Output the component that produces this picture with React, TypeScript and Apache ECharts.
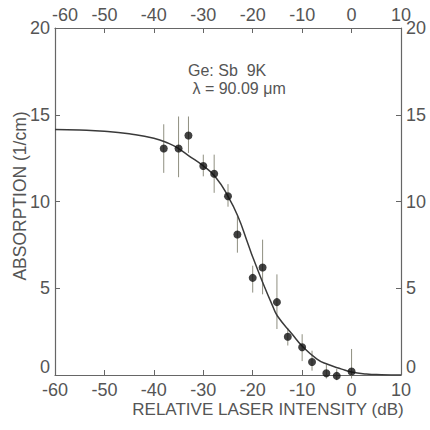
import React, { useEffect, useRef } from "react";
import * as echarts from "echarts";

// Measured points (relative laser intensity dB, absorption 1/cm)
const pointX = [-38, -35, -33, -30, -27.8, -25, -23.1, -20, -18, -15.1, -12.9, -10, -8, -5.1, -3, 0];
const pointY = [13.05, 13.05, 13.8, 12.05, 11.6, 10.3, 8.1, 5.6, 6.2, 4.2, 2.2, 1.6, 0.75, 0.1, -0.05, 0.2];
const errLow = [11.65, 11.4, 12.8, 11.45, 10.5, 9.7, 7.05, 4.75, 4.65, 2.65, 1.7, 0.8, 0.25, -0.2, -0.3, -0.2];
const errHigh = [14.45, 14.9, 14.9, 12.7, 12.7, 11.0, 9.15, 6.3, 7.8, 5.8, 2.7, 2.35, 1.4, 0.6, 0.35, 1.5];

// Fitted curve
const curveX = [-60, -55, -50, -45, -40, -37, -35, -33, -30, -27.5, -25, -23, -21, -20, -18, -16, -15, -12, -10, -7, -5, -2, 0, 3, 6, 10];
const curveY = [14.15, 14.12, 14.05, 13.9, 13.65, 13.35, 13.05, 12.65, 12.05, 11.4, 10.3, 9.15, 7.6, 6.8, 5.35, 4.0, 3.4, 2.35, 1.67, 0.92, 0.63, 0.34, 0.17, 0.06, 0.02, 0];

const FONT = "Liberation Sans";
const TXT = "#555";
const AXIS = "#666";

export default function App() {
  const ref = useRef<HTMLDivElement>(null);
  useEffect(() => {
    document.body.style.margin = "0";
    const chart = echarts.init(ref.current!, null, { renderer: "svg" });
    const xAxisBase = {
      type: "value",
      min: -60,
      max: 10,
      interval: 10,
      splitLine: { show: false },
      axisLine: { show: true, onZero: false, lineStyle: { color: AXIS, width: 1.2 } },
      axisTick: { show: true, inside: true, length: 5, lineStyle: { color: AXIS } },
      axisLabel: { color: TXT, fontSize: 18, fontFamily: FONT, margin: 6 },
    };
    const yLabel = {
      color: TXT,
      fontSize: 18,
      fontFamily: FONT,
      margin: 5,
      formatter: (v: number) => (v === 0 ? "{z|0}" : String(v)),
      rich: { z: { color: TXT, fontSize: 18, fontFamily: FONT, padding: [0, 0, 16, 0] } },
    };
    const yAxisBase = {
      type: "value",
      min: 0,
      max: 20,
      interval: 5,
      splitLine: { show: false },
      axisLine: { show: true, onZero: false, lineStyle: { color: AXIS, width: 1.2 } },
      axisTick: { show: true, inside: true, length: 5, lineStyle: { color: AXIS } },
      axisLabel: yLabel,
    };
    chart.setOption({
      animation: false,
      backgroundColor: "#fff",
      grid: { left: 55, right: 29, top: 28, bottom: 55 },
      xAxis: [
        { ...xAxisBase, position: "bottom" },
        {
          ...xAxisBase,
          position: "top",
          axisLabel: {
            ...xAxisBase.axisLabel,
            margin: 4,
            formatter: (v: number) => (v === -60 ? "{s|-60}" : String(v)),
            rich: { s: { color: TXT, fontSize: 18, fontFamily: FONT, padding: [0, 0, 0, 20] } },
          },
        },
      ],
      yAxis: [
        { ...yAxisBase, position: "left" },
        { ...yAxisBase, position: "right" },
      ],
      graphic: [
        {
          type: "text",
          x: 268,
          y: 409,
          style: {
            text: "RELATIVE LASER INTENSITY (dB)",
            fill: TXT,
            font: `17px "${FONT}"`,
            align: "center",
            verticalAlign: "middle",
          },
        },
        {
          type: "text",
          x: 20,
          y: 196,
          rotation: Math.PI / 2,
          style: {
            text: "ABSORPTION (1/cm)",
            fill: TXT,
            font: `17.5px "${FONT}"`,
            align: "center",
            verticalAlign: "middle",
          },
        },
        {
          type: "text",
          x: 188,
          y: 61,
          style: {
            text: "Ge: Sb  9K\n \u03bb = 90.09 \u03bcm",
            fill: TXT,
            font: `16px "${FONT}"`,
            lineHeight: 18,
            verticalAlign: "top",
          },
        },
      ],
      series: [
        {
          type: "line",
          data: curveX.map((x, i) => [x, curveY[i]]),
          smooth: true,
          showSymbol: false,
          symbol: "none",
          lineStyle: { color: "#3a3a3a", width: 1.5 },
          z: 2,
        },
        {
          type: "custom",
          clip: false,
          data: pointX.map((x, i) => [x, errLow[i], errHigh[i]]),
          renderItem: (params: any, api: any) => {
            const p1 = api.coord([api.value(0), api.value(1)]);
            const p2 = api.coord([api.value(0), api.value(2)]);
            return {
              type: "line",
              shape: { x1: p1[0], y1: p1[1], x2: p2[0], y2: p2[1] },
              style: { stroke: "#8f8f80", lineWidth: 1 },
            };
          },
          z: 1,
        },
        {
          type: "scatter",
          clip: false,
          data: pointX.map((x, i) => [x, pointY[i]]),
          symbol: "circle",
          symbolSize: 8,
          itemStyle: { color: "#111" },
          z: 3,
        },
      ],
    });
    return () => chart.dispose();
  }, []);
  return <div ref={ref} style={{ width: 430, height: 430 }} />;
}
